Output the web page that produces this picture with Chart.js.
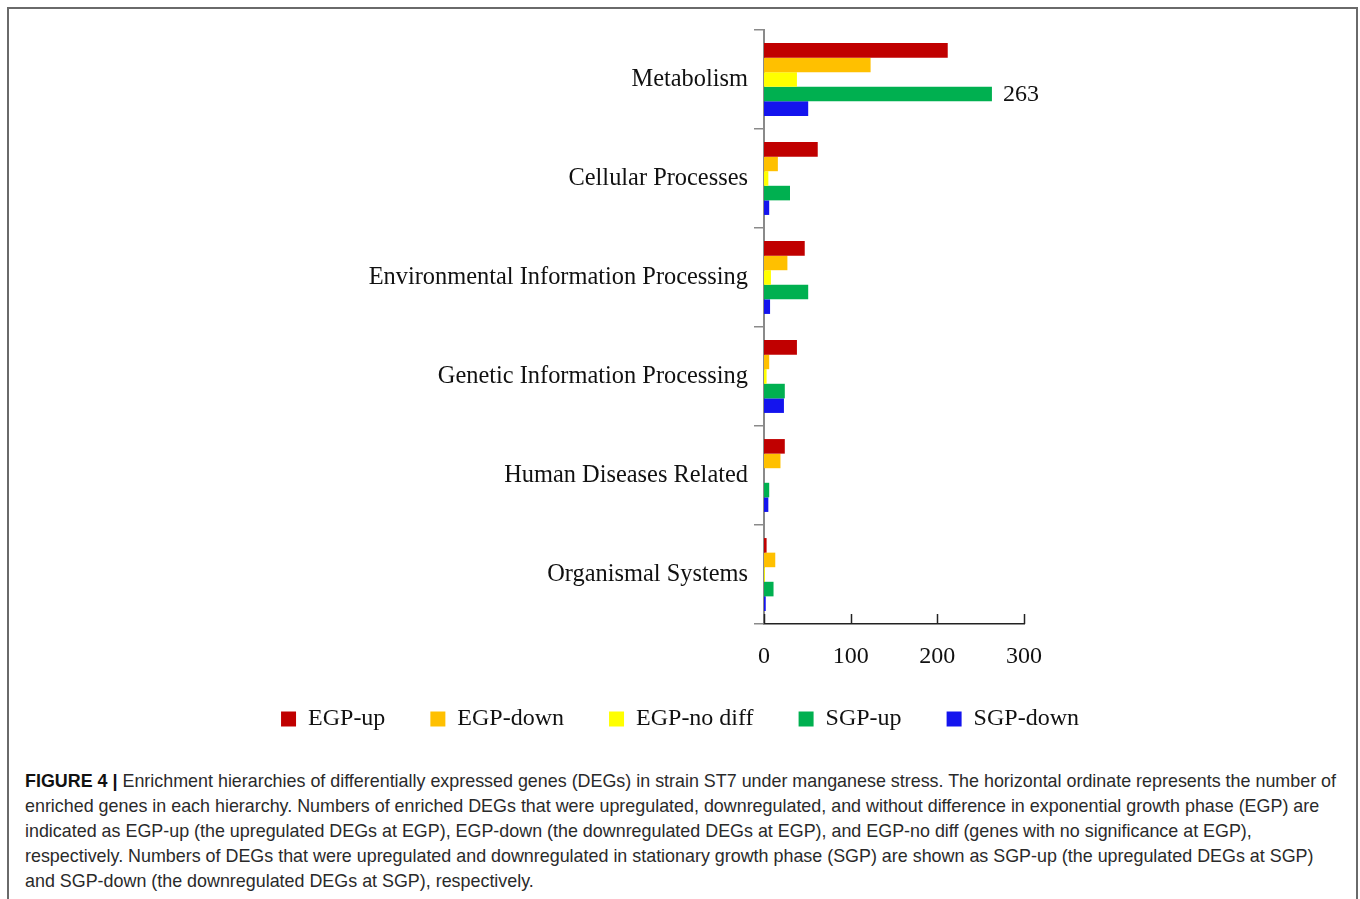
<!DOCTYPE html>
<html>
<head>
<meta charset="utf-8">
<script src="https://cdn.jsdelivr.net/npm/chart.js@4.4.1/dist/chart.umd.min.js"></script>
<style>
  html, body { margin: 0; padding: 0; background: #fff; width: 1360px; height: 899px; overflow: hidden; }
  #frame { position: absolute; left: 7px; top: 7px; width: 1347px; height: 920px;
           border: 2px solid #6a6a6a; border-bottom: none; }
  #wrap { position: absolute; left: 0; top: 0; width: 1360px; height: 756px; }
  #caption { position: absolute; left: 25px; top: 769px; font-family: "Liberation Sans", Arial, sans-serif;
             font-size: 17.9px; line-height: 25px; color: #2a2a2a; white-space: nowrap; }
  #caption b { color: #111; }
</style>
</head>
<body>
<div id="frame"></div>
<div id="wrap"><canvas id="c"></canvas></div>
<div id="caption">
<b>FIGURE 4 |</b> Enrichment hierarchies of differentially expressed genes (DEGs) in strain ST7 under manganese stress. The horizontal ordinate represents the number of<br>
enriched genes in each hierarchy. Numbers of enriched DEGs that were upregulated, downregulated, and without difference in exponential growth phase (EGP) are<br>
indicated as EGP-up (the upregulated DEGs at EGP), EGP-down (the downregulated DEGs at EGP), and EGP-no diff (genes with no significance at EGP),<br>
respectively. Numbers of DEGs that were upregulated and downregulated in stationary growth phase (SGP) are shown as SGP-up (the upregulated DEGs at SGP)<br>
and SGP-down (the downregulated DEGs at SGP), respectively.
</div>
<script>
// KEGG level-1 hierarchies
const categories = [
  "Metabolism",
  "Cellular Processes",
  "Environmental Information Processing",
  "Genetic Information Processing",
  "Human Diseases Related",
  "Organismal Systems"
];

// Number of enriched DEGs per hierarchy
const egpUp     = [212, 62, 47, 38, 24, 3];
const egpDown   = [123, 16, 27,  6, 19, 13];
const egpNoDiff = [ 38,  5,  8,  3,  0,  1];
const sgpUp     = [263, 30, 51, 24,  6, 11];
const sgpDown   = [ 51,  6,  7, 23,  5,  2];

const seriesNames  = ["EGP-up", "EGP-down", "EGP-no diff", "SGP-up", "SGP-down"];
const seriesColors = ["#C00000", "#FFC000", "#FFFF00", "#00B050", "#1414EE"];
const xTicks = [0, 100, 200, 300];

const serif = "'Liberation Serif', 'Times New Roman', serif";

const seriesData = [egpUp, egpDown, egpNoDiff, sgpUp, sgpDown];
const datasets = seriesData.map((d, i) => ({
  label: seriesNames[i],
  data: d,
  backgroundColor: seriesColors[i],
  borderWidth: 0,
  barPercentage: 1.0,
  categoryPercentage: 0.736
}));

// x-axis ticks pointing up into the plot, plus the value label on the longest bar
const extras = {
  id: "extras",
  afterLayout(chart) {
    // pull the legend row a little closer to the axis labels
    const lg = chart.legend;
    const h = lg.bottom - lg.top;
    lg.top = chart.chartArea.bottom + 38;
    lg.bottom = lg.top + h;
  },
  afterDatasetsDraw(chart) {
    const ctx = chart.ctx;
    const xs = chart.scales.x;
    const area = chart.chartArea;
    ctx.save();
    ctx.strokeStyle = "#222";
    ctx.lineWidth = 1.5;
    xTicks.forEach(v => {
      const px = Math.round(xs.getPixelForValue(v)) + 0.5;
      ctx.beginPath();
      ctx.moveTo(px, area.bottom);
      ctx.lineTo(px, area.bottom - 10);
      ctx.stroke();
    });
    const bar = chart.getDatasetMeta(3).data[0];
    ctx.fillStyle = "#111";
    ctx.font = "24px " + serif;
    ctx.textAlign = "left";
    ctx.textBaseline = "middle";
    ctx.fillText(String(sgpUp[0]), bar.x + 11, bar.y + 1);
    ctx.restore();
  }
};

new Chart(document.getElementById("c"), {
  type: "bar",
  data: { labels: categories, datasets },
  options: {
    indexAxis: "y",
    responsive: true,
    maintainAspectRatio: false,
    animation: false,
    layout: { padding: { top: 30, bottom: 5, left: 0, right: 0 } },
    plugins: {
      tooltip: { enabled: false },
      legend: {
        position: "bottom",
        labels: {
          boxWidth: 15,
          boxHeight: 15,
          padding: 45,
          color: "#111",
          font: { family: serif, size: 24 }
        }
      }
    },
    scales: {
      x: {
        type: "linear",
        min: 0,
        max: 300,
        afterBuildTicks: s => { s.ticks = xTicks.map(v => ({ value: v })); },
        afterFit: s => { s.height = 48; },
        grid: { display: false },
        border: { display: true, color: "#222", width: 1.5 },
        ticks: { color: "#111", padding: 10, font: { family: serif, size: 24 } }
      },
      y: {
        afterFit: s => { s.width = 764; },
        grid: { display: true, drawOnChartArea: false, drawTicks: true, tickLength: 10, color: "#8a8a8a", lineWidth: 1.5 },
        border: { display: true, color: "#8a8a8a", width: 2 },
        ticks: { color: "#111", padding: 6, font: { family: serif, size: 24.4 } }
      },
      yRight: {
        type: "linear",
        position: "right",
        display: true,
        afterFit: s => { s.width = 336; },
        grid: { display: false },
        border: { display: false },
        ticks: { display: false }
      }
    }
  },
  plugins: [extras]
});
</script>
</body>
</html>
